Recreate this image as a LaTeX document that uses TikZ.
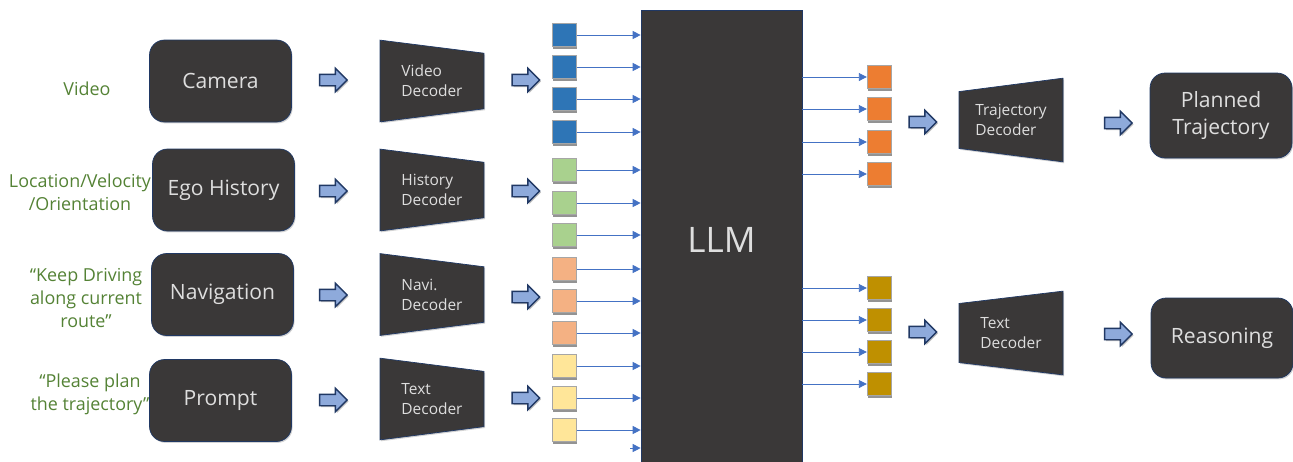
\documentclass[tikz,border=0pt]{standalone}
\usepackage{fontspec}
\setmainfont{Open Sans}
\usetikzlibrary{shapes.geometric,shapes.arrows,arrows.meta,shadows}

\definecolor{boxfill}{RGB}{58,56,56}
\definecolor{boxline}{RGB}{32,56,100}
\definecolor{boxtext}{RGB}{222,222,222}
\definecolor{labelgreen}{RGB}{84,130,53}
\definecolor{arrowfill}{RGB}{142,170,219}
\definecolor{linkblue}{RGB}{68,114,196}
\definecolor{tokblue}{RGB}{46,117,182}
\definecolor{tokgreen}{RGB}{169,209,142}
\definecolor{tokpeach}{RGB}{244,177,131}
\definecolor{tokyellow}{RGB}{255,230,153}
\definecolor{tokorange}{RGB}{237,125,49}
\definecolor{tokgold}{RGB}{191,144,0}
\definecolor{tokline}{RGB}{166,166,166}

\begin{document}
\begin{tikzpicture}[x=0.02cm, y=-0.02cm]
    \tikzstyle{input box}=[
        draw = boxline,
        fill = boxfill,
        rounded corners = 0.3cm,
        minimum width = 2.84cm,
        minimum height = 1.64cm,
        text = boxtext,
        align = center,
        font = \fontsize{12}{15.3}\selectfont,
        drop shadow = {shadow xshift=0.6pt, shadow yshift=-0.8pt, opacity=0.35}
    ]
    \tikzstyle{decoder}=[
        trapezium,
        trapezium stretches = true,
        shape border rotate = 270,
        trapezium left angle = 82,
        trapezium right angle = 82,
        minimum width = 1.64cm,
        minimum height = 2.08cm,
        draw = boxline,
        fill = boxfill,
        text = boxtext,
        align = left,
        font = \fontsize{8.8}{11.3}\selectfont,
        drop shadow = {shadow xshift=0.6pt, shadow yshift=-0.8pt, opacity=0.35}
    ]
    \tikzstyle{out decoder}=[
        decoder,
        shape border rotate = 90,
        trapezium left angle = 83,
        trapezium right angle = 83,
        minimum width = 1.68cm
    ]
    \tikzstyle{token}=[
        draw = tokline,
        thick,
        minimum width = 0.48cm,
        minimum height = 0.46cm,
        inner sep = 0pt,
        drop shadow = {shadow xshift=0pt, shadow yshift=-1.6pt, opacity=0.85}
    ]
    \tikzstyle{fat arrow}=[
        single arrow,
        draw = boxline,
        thick,
        fill = arrowfill,
        minimum height = 0.55cm,
        minimum width = 0.44cm,
        single arrow head extend = 0.12cm,
        inner xsep = 0pt,
        inner ysep = 0.1cm,
        drop shadow = {shadow xshift=0.8pt, shadow yshift=-0.8pt, opacity=0.5}
    ]
    \tikzstyle{input label}=[
        text = labelgreen,
        align = center,
        font = \fontsize{10.2}{13}\selectfont
    ]
    \tikzstyle{link}=[
        draw = linkblue,
        line width = 0.5pt,
        -{Triangle[length=1.6mm, width=1.6mm]}
    ]

    \useasboundingbox (0,0) rectangle (1293,461);

    \node[input label] (vidlbl) at (87,89)   {Video};
    \node[input label] (egolbl) at (80,192)  {Location/Velocity\\/Orientation};
    \node[input label] (navlbl) at (86,298)  {“Keep Driving\\along current\\route”};
    \node[input label] (prmlbl) at (90,394)  {“Please plan\\the trajectory”};

    \node[input box] (camera) at (220.5,81)  {Camera};
    \node[input box] (ego)    at (223.5,190) {Ego History};
    \node[input box] (navi)   at (222.5,294.5) {Navigation};
    \node[input box] (prompt) at (220.5,400.5) {Prompt};

    \node[fat arrow] (a1) at (330.5,80)  {};
    \node[fat arrow] (a2) at (330.5,191) {};
    \node[fat arrow] (a3) at (330.5,295) {};
    \node[fat arrow] (a4) at (330.5,400) {};

    \node[decoder] (viddec) at (432,81)    {Video\\Decoder};
    \node[decoder] (hisdec) at (432,190)   {History\\Decoder};
    \node[decoder] (navdec) at (432,294.5) {Navi.\\Decoder};
    \node[decoder] (txtdec) at (432,399)   {Text\\Decoder};

    \node[fat arrow] (b1) at (523,80)  {};
    \node[fat arrow] (b2) at (523,191) {};
    \node[fat arrow] (b3) at (523,297) {};
    \node[fat arrow] (b4) at (523,398) {};

    \node[token, fill=tokblue]   (v1) at (564.5,35)  {};
    \node[token, fill=tokblue]   (v2) at (564.5,67)  {};
    \node[token, fill=tokblue]   (v3) at (564.5,99)  {};
    \node[token, fill=tokblue]   (v4) at (564.5,132) {};
    \node[token, fill=tokgreen]  (h1) at (564.5,170) {};
    \node[token, fill=tokgreen]  (h2) at (564.5,203) {};
    \node[token, fill=tokgreen]  (h3) at (564.5,235) {};
    \node[token, fill=tokpeach]  (n1) at (564.5,269) {};
    \node[token, fill=tokpeach]  (n2) at (564.5,301) {};
    \node[token, fill=tokpeach]  (n3) at (564.5,333) {};
    \node[token, fill=tokyellow] (p1) at (564.5,366) {};
    \node[token, fill=tokyellow] (p2) at (564.5,398) {};
    \node[token, fill=tokyellow] (p3) at (564.5,430) {};
    \coordinate (pend) at (630,448);

    \node[draw=boxline, fill=boxfill, text=boxtext, minimum width=3.22cm,
          minimum height=9.2cm, font=\fontsize{20}{24}\selectfont] (llm) at (721.5,240) {LLM};

    \path (v1) edge[link] (v1 -| llm.west);
    \path (v2) edge[link] (v2 -| llm.west);
    \path (v3) edge[link] (v3 -| llm.west);
    \path (v4) edge[link] (v4 -| llm.west);
    \path (h1) edge[link] (h1 -| llm.west);
    \path (h2) edge[link] (h2 -| llm.west);
    \path (h3) edge[link] (h3 -| llm.west);
    \path (n1) edge[link] (n1 -| llm.west);
    \path (n2) edge[link] (n2 -| llm.west);
    \path (n3) edge[link] (n3 -| llm.west);
    \path (p1) edge[link] (p1 -| llm.west);
    \path (p2) edge[link] (p2 -| llm.west);
    \path (p3) edge[link] (p3 -| llm.west);
    \path (pend) edge[link] (pend -| llm.west);

    \node[token, fill=tokorange] (t1) at (879.5,77)  {};
    \node[token, fill=tokorange] (t2) at (879.5,109) {};
    \node[token, fill=tokorange] (t3) at (879.5,142) {};
    \node[token, fill=tokorange] (t4) at (879.5,174) {};
    \node[token, fill=tokgold]   (r1) at (879.5,288) {};
    \node[token, fill=tokgold]   (r2) at (879.5,320) {};
    \node[token, fill=tokgold]   (r3) at (879.5,352) {};
    \node[token, fill=tokgold]   (r4) at (879.5,384) {};

    \path (llm.east |- t1) edge[link] (t1);
    \path (llm.east |- t2) edge[link] (t2);
    \path (llm.east |- t3) edge[link] (t3);
    \path (llm.east |- t4) edge[link] (t4);
    \path (llm.east |- r1) edge[link] (r1);
    \path (llm.east |- r2) edge[link] (r2);
    \path (llm.east |- r3) edge[link] (r3);
    \path (llm.east |- r4) edge[link] (r4);

    \node[fat arrow] (c1) at (920,122) {};
    \node[fat arrow] (c2) at (920,332) {};

    \node[out decoder] (trjdec) at (1011,120) {Trajectory\\Decoder};
    \node[out decoder] (rsndec) at (1011,333) {Text\\Decoder};

    \node[fat arrow] (d1) at (1115.5,123) {};
    \node[fat arrow] (d2) at (1115.5,334) {};

    \node[input box, minimum height=1.7cm] (planned) at (1221,115.5) {Planned\\Trajectory};
    \node[input box, minimum height=1.6cm] (reason)  at (1222,338)   {Reasoning};

\end{tikzpicture}
\end{document}
